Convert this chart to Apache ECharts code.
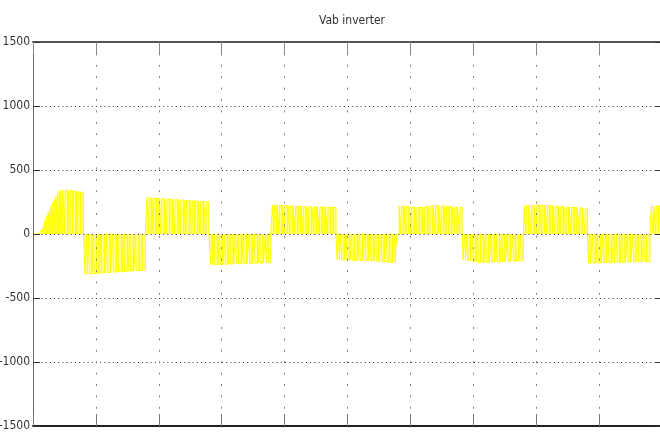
<!DOCTYPE html>
<html>
<head>
<meta charset="utf-8">
<title>Vab inverter</title>
<script src="https://cdn.jsdelivr.net/npm/echarts@6/dist/echarts.min.js"></script>
<style>
  html, body { margin: 0; padding: 0; background: #ffffff; }
  #chart { width: 660px; height: 437px; }
</style>
</head>
<body>
<div id="chart"></div>
<script>
// Line-to-line inverter voltage Vab (V) over time (ms), drawn as PWM pulses.
const chartTitle = 'Vab inverter';
const timeMin = 0;
const timeMax = 100;
const timeStep = 10;
const voltMin = -1500;
const voltMax = 1500;
const voltStep = 500;

// Pulse rising edges (ms), one list per half cycle
const pulseRise = [
  [0.64, 0.90, 1.15, 1.40, 1.65, 1.90, 2.15, 2.40, 2.65, 2.90, 3.15, 3.40, 3.65, 3.90, 4.15, 4.40, 4.75, 5.10, 5.60, 5.95, 6.40, 6.90, 7.20, 7.65],
  [8.29, 8.62, 8.95, 9.40, 9.70, 10.15, 10.60, 10.90, 11.45, 11.80, 12.35, 12.75, 13.30, 13.60, 14.20, 14.55, 15.10, 15.50, 16.05, 16.40, 16.95, 17.40],
  [18.13, 18.45, 18.90, 19.20, 19.65, 20.10, 20.40, 20.95, 21.30, 21.80, 22.25, 22.60, 23.15, 23.50, 24.05, 24.40, 24.95, 25.35, 25.80, 26.30, 26.65, 27.15, 27.55],
  [28.23, 28.60, 28.90, 29.40, 29.75, 30.20, 30.55, 31.05, 31.40, 31.90, 32.30, 32.70, 33.20, 33.55, 34.05, 34.45, 34.90, 35.30, 35.80, 36.15, 36.65, 37.05, 37.45],
  [38.07, 38.40, 38.85, 39.20, 39.70, 40.05, 40.55, 40.90, 41.40, 41.75, 42.20, 42.65, 43.00, 43.50, 43.85, 44.35, 44.75, 45.20, 45.60, 46.05, 46.50, 46.90, 47.35, 47.80],
  [48.33, 48.70, 49.05, 49.55, 49.90, 50.40, 50.75, 51.20, 51.65, 52.00, 52.50, 52.85, 53.35, 53.70, 54.20, 54.60, 55.05, 55.45, 55.90, 56.30, 56.75, 57.20, 57.55],
  [58.22, 58.55, 59.00, 59.35, 59.85, 60.20, 60.70, 61.05, 61.50, 61.95, 62.30, 62.80, 63.15, 63.65, 64.00, 64.50, 64.90, 65.35, 65.75, 66.20, 66.65, 67.05, 67.50, 67.90],
  [68.38, 68.75, 69.10, 69.60, 69.95, 70.45, 70.80, 71.25, 71.70, 72.05, 72.55, 72.90, 73.40, 73.75, 74.25, 74.65, 75.10, 75.50, 75.95, 76.35, 76.80, 77.25, 77.60],
  [78.11, 78.45, 78.90, 79.25, 79.75, 80.10, 80.60, 80.95, 81.45, 81.80, 82.25, 82.70, 83.05, 83.55, 83.90, 84.40, 84.80, 85.25, 85.65, 86.10, 86.55, 86.95, 87.40, 87.80],
  [88.31, 88.65, 89.05, 89.50, 89.85, 90.35, 90.70, 91.20, 91.55, 92.05, 92.45, 92.85, 93.35, 93.70, 94.20, 94.60, 95.05, 95.45, 95.90, 96.30, 96.80, 97.20, 97.65],
  [98.30, 98.70, 99.10, 99.55]
];

// Pulse falling edges (ms), one per rising edge above
const pulseFall = [
  [0.85, 1.10, 1.35, 1.60, 1.85, 2.10, 2.35, 2.60, 2.85, 3.10, 3.35, 3.60, 3.85, 4.10, 4.35, 4.65, 5.00, 5.50, 5.85, 6.30, 6.80, 7.10, 7.55, 8.02],
  [8.52, 8.85, 9.30, 9.60, 10.05, 10.50, 10.80, 11.35, 11.70, 12.25, 12.65, 13.20, 13.50, 14.10, 14.45, 15.00, 15.40, 15.95, 16.30, 16.85, 17.30, 17.86],
  [18.35, 18.80, 19.10, 19.55, 20.00, 20.30, 20.85, 21.20, 21.70, 22.15, 22.50, 23.05, 23.40, 23.95, 24.30, 24.85, 25.25, 25.70, 26.20, 26.55, 27.05, 27.45, 27.96],
  [28.50, 28.80, 29.30, 29.65, 30.10, 30.45, 30.95, 31.30, 31.80, 32.20, 32.60, 33.10, 33.45, 33.95, 34.35, 34.80, 35.20, 35.70, 36.05, 36.55, 36.95, 37.35, 37.80],
  [38.30, 38.75, 39.10, 39.60, 39.95, 40.45, 40.80, 41.30, 41.65, 42.10, 42.55, 42.90, 43.40, 43.75, 44.25, 44.65, 45.10, 45.50, 45.95, 46.40, 46.80, 47.25, 47.70, 48.17],
  [48.60, 48.95, 49.45, 49.80, 50.30, 50.65, 51.10, 51.55, 51.90, 52.40, 52.75, 53.25, 53.60, 54.10, 54.50, 54.95, 55.35, 55.80, 56.20, 56.65, 57.10, 57.45, 57.85],
  [58.45, 58.90, 59.25, 59.75, 60.10, 60.60, 60.95, 61.40, 61.85, 62.20, 62.70, 63.05, 63.55, 63.90, 64.40, 64.80, 65.25, 65.65, 66.10, 66.55, 66.95, 67.40, 67.80, 68.22],
  [68.65, 69.00, 69.50, 69.85, 70.35, 70.70, 71.15, 71.60, 71.95, 72.45, 72.80, 73.30, 73.65, 74.15, 74.55, 75.00, 75.40, 75.85, 76.25, 76.70, 77.15, 77.50, 77.95],
  [78.35, 78.80, 79.15, 79.65, 80.00, 80.50, 80.85, 81.35, 81.70, 82.15, 82.60, 82.95, 83.45, 83.80, 84.30, 84.70, 85.15, 85.55, 86.00, 86.45, 86.85, 87.30, 87.70, 88.15],
  [88.55, 88.95, 89.40, 89.75, 90.25, 90.60, 91.10, 91.45, 91.95, 92.35, 92.75, 93.25, 93.60, 94.10, 94.50, 94.95, 95.35, 95.80, 96.20, 96.70, 97.10, 97.55, 98.09],
  [98.60, 99.00, 99.45, 100.00]
];

// Voltage level held by each pulse (V)
const pulseLevel = [
  [2, 10, 22, 42, 70, 105, 138, 168, 197, 223, 247, 270, 295, 317, 334, 341, 344, 343, 341, 338, 335, 332, 329, 326],
  [-315, -313, -312, -310, -309, -307, -306, -304, -303, -301, -300, -298, -297, -295, -294, -292, -291, -289, -288, -286, -285, -283],
  [284, 283, 281, 280, 278, 277, 275, 274, 272, 271, 269, 268, 266, 265, 263, 262, 260, 259, 257, 256, 254, 253, 252],
  [-242, -241, -240, -239, -239, -238, -237, -236, -235, -235, -234, -233, -232, -231, -231, -230, -229, -228, -227, -227, -226, -225, -224],
  [227, 226, 225, 224, 223, 222, 221, 220, 219, 218, 217, 216, 215, 214, 213, 212, 212, 211, 210, 210, 209, 209, 208, 208],
  [-203, -203, -204, -204, -204, -205, -205, -206, -206, -206, -207, -207, -208, -209, -211, -213, -215, -217, -219, -221, -223, -224, -224],
  [219, 218, 216, 214, 212, 210, 209, 208, 209, 211, 214, 217, 220, 223, 223, 222, 220, 218, 216, 214, 212, 210, 209, 208],
  [-203, -205, -208, -211, -214, -217, -220, -221, -221, -220, -220, -219, -218, -217, -216, -215, -214, -214, -213, -212, -211, -211, -210],
  [219, 221, 223, 224, 225, 226, 226, 225, 224, 222, 221, 219, 218, 216, 215, 213, 212, 210, 209, 207, 205, 204, 202, 201],
  [-229, -228, -228, -227, -226, -226, -225, -224, -224, -223, -222, -222, -221, -220, -220, -219, -219, -218, -218, -217, -217, -216, -216],
  [219, 219, 218, 218]
];

// Build the switched waveform: rise to the pulse level, hold, fall back to zero
const waveform = [[timeMin, 0]];
for (let k = 0; k < pulseRise.length; k++) {
  for (let i = 0; i < pulseRise[k].length; i++) {
    const r = pulseRise[k][i];
    const f = pulseFall[k][i];
    const v = pulseLevel[k][i];
    waveform.push([r, 0], [r, v], [f, v], [f, 0]);
  }
}
waveform.push([timeMax, 0]);

const labelFont = "'Liberation Sans Narrow', 'DejaVu Sans Condensed', 'Liberation Sans', Arial, sans-serif";

const chart = echarts.init(document.getElementById('chart'), null, { renderer: 'canvas' });

chart.setOption({
  backgroundColor: '#ffffff',
  animation: false,
  title: {
    text: chartTitle,
    left: 347,
    top: 10,
    textAlign: 'center',
    textStyle: {
      fontFamily: labelFont,
      fontSize: 12,
      fontWeight: 'normal',
      color: '#333333'
    }
  },
  grid: {
    left: 33, top: 42, width: 629, height: 384,
    containLabel: false,
    outerBoundsMode: 'none'
  },
  xAxis: [
    {
      type: 'value',
      position: 'bottom',
      min: timeMin,
      max: timeMax,
      interval: timeStep,
      z: 3,
      axisLine: { show: true, onZero: false, lineStyle: { color: '#222222', width: 2 } },
      axisTick: { show: true, inside: true, length: 12, lineStyle: { color: '#777777', width: 1 } },
      axisLabel: { show: false },
      splitLine: { show: true, lineStyle: { color: '#808080', width: 1, type: [2, 9.4] } }
    },
    {
      type: 'value',
      position: 'top',
      min: timeMin,
      max: timeMax,
      interval: timeStep,
      z: 3,
      axisLine: { show: true, onZero: false, lineStyle: { color: '#555555', width: 2 } },
      axisTick: { show: true, inside: true, length: 12, lineStyle: { color: '#888888', width: 1 } },
      axisLabel: { show: false },
      splitLine: { show: false }
    }
  ],
  yAxis: [
    {
      type: 'value',
      position: 'left',
      min: voltMin,
      max: voltMax,
      interval: voltStep,
      z: 3,
      axisLine: { show: true, onZero: false, lineStyle: { color: '#666666', width: 1 } },
      axisTick: { show: true, inside: true, length: 7, lineStyle: { color: '#333333', width: 1 } },
      axisLabel: {
        show: true,
        margin: 3,
        fontFamily: labelFont,
        fontSize: 12,
        color: '#333333',
        formatter: function (v) { return String(v); }
      },
      splitLine: { show: true, lineStyle: { color: '#333333', width: 1, type: [1, 3.2] } }
    },
    {
      type: 'value',
      position: 'right',
      min: voltMin,
      max: voltMax,
      interval: voltStep,
      z: 3,
      axisLine: { show: true, onZero: false, lineStyle: { color: '#666666', width: 1 } },
      axisTick: { show: true, inside: true, length: 7, lineStyle: { color: '#333333', width: 1 } },
      axisLabel: { show: false },
      splitLine: { show: false }
    }
  ],
  series: [
    {
      name: 'Vab',
      type: 'line',
      xAxisIndex: 0,
      yAxisIndex: 0,
      z: 1,
      data: waveform,
      showSymbol: false,
      symbol: 'none',
      sampling: null,
      clip: true,
      lineStyle: { color: '#ffff00', width: 1 },
      areaStyle: { color: '#ffff00', opacity: 0.45, origin: 0 }
    }
  ]
});
</script>
</body>
</html>
